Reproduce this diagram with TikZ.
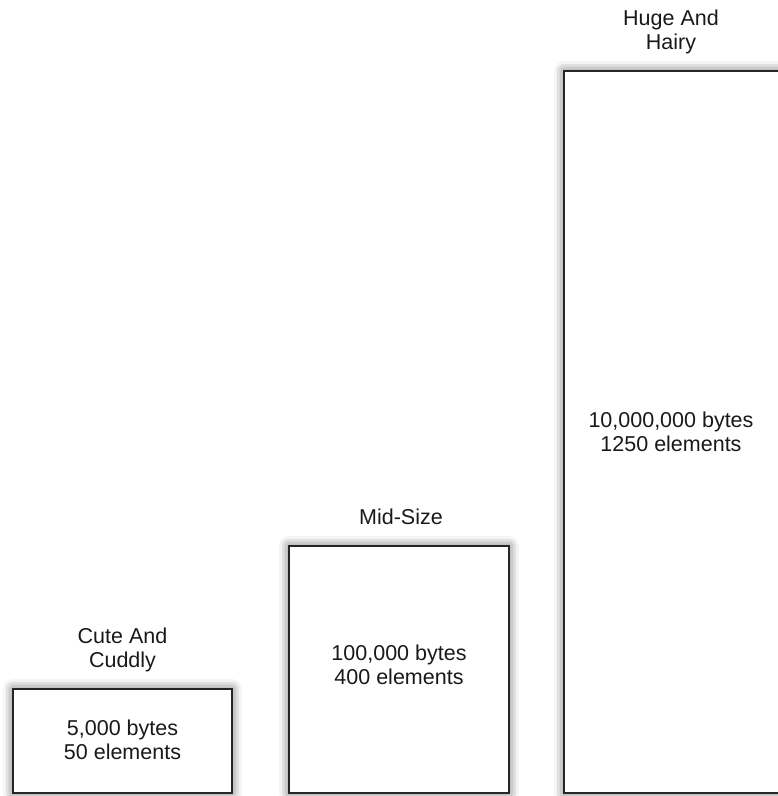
\documentclass[tikz,border=0pt]{standalone}
\usepackage{fontspec}
\setmainfont{Liberation Sans}
\usetikzlibrary{shadows.blur}
\begin{document}
\begin{tikzpicture}[x=1pt,y=-1pt,
  bar/.style={draw=black!85, line width=1.7pt, fill=white, inner sep=0pt,
    blur shadow={shadow xshift=0pt, shadow yshift=0pt, shadow blur radius=10pt, shadow opacity=65}},
  lbl/.style={font=\fontsize{21.5}{24}\selectfont, text=black!90, align=center, inner sep=0pt, text depth=0pt, anchor=south},
  txt/.style={font=\fontsize{21.5}{24.5}\selectfont, text=black!90, align=center, inner sep=0pt}]
\useasboundingbox (0,0) rectangle (778,796);
\node[bar, minimum width=219, minimum height=104] (small) at (122.5,741) {};
\node[bar, minimum width=220, minimum height=247] (mid) at (399,669.5) {};
\node[bar, minimum width=216, minimum height=722] (huge) at (672,432) {};
\node[txt] (smalltxt) at (122.5,740) {5,000 bytes\\50 elements};
\node[txt] (midtxt) at (399,665) {100,000 bytes\\400 elements};
\node[txt] (hugetxt) at (671,432) {10,000,000 bytes\\1250 elements};
\node[lbl] (smalllbl) at (122.5,668) {Cute And\\Cuddly};
\node[lbl] (midlbl) at (401,525) {Mid-Size};
\node[lbl] (hugelbl) at (671,50) {Huge And\\Hairy};
\end{tikzpicture}
\end{document}
